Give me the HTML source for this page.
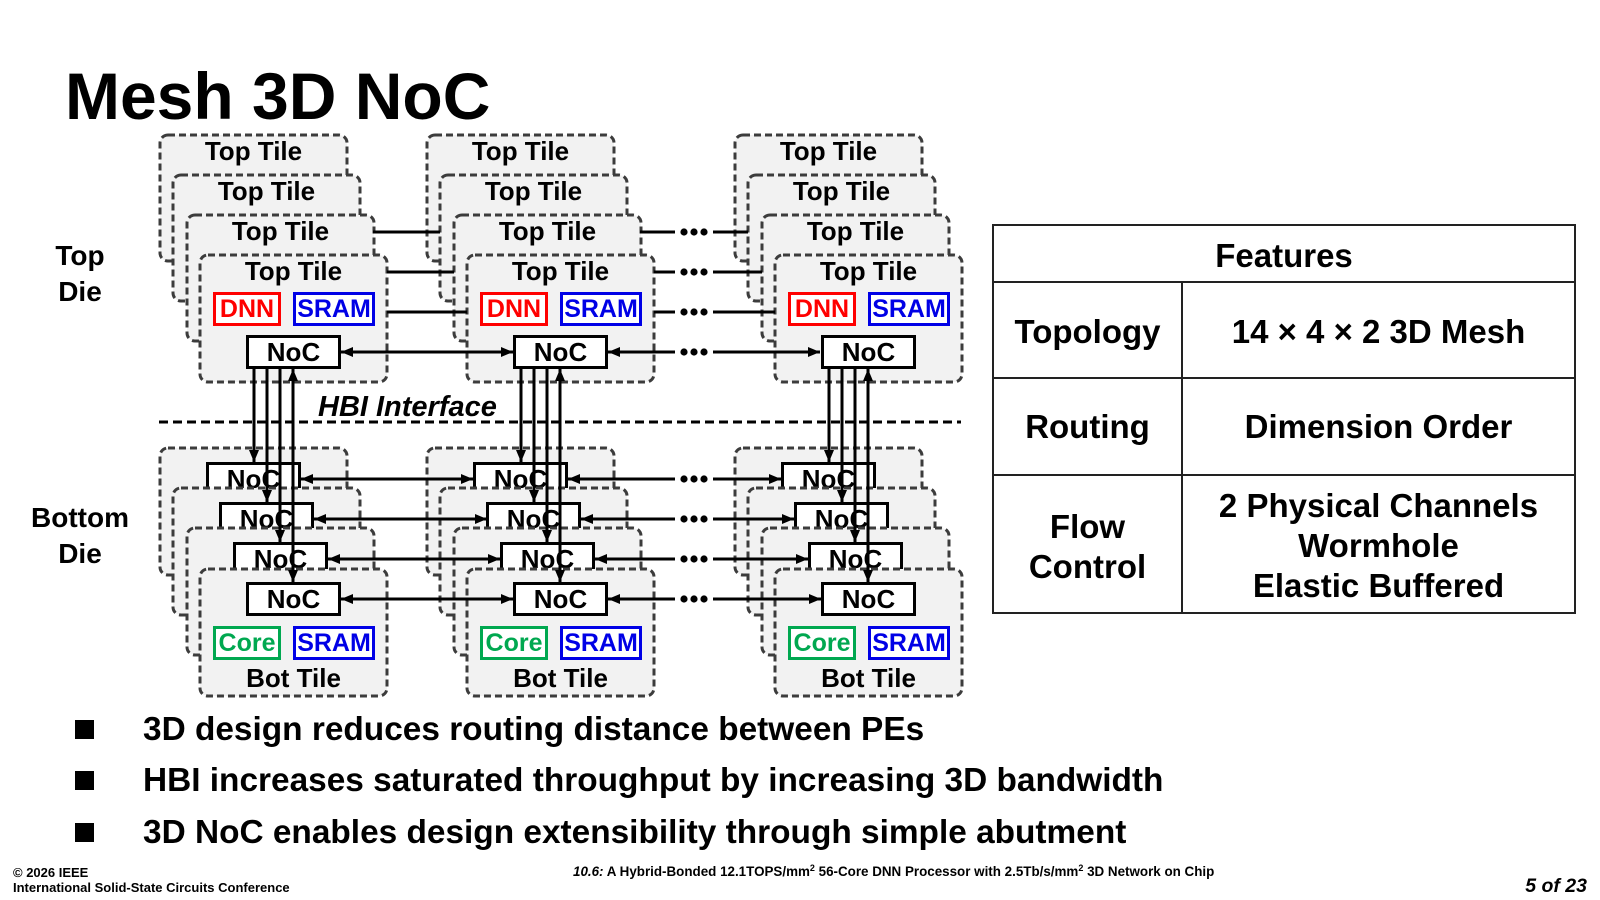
<!DOCTYPE html>
<html><head><meta charset="utf-8"><style>
html,body{margin:0;padding:0;background:#fff;width:1600px;height:900px;overflow:hidden}
svg{display:block}
</style></head><body>
<svg width="1600" height="900" viewBox="0 0 1600 900" xmlns="http://www.w3.org/2000/svg" font-family="'Liberation Sans', Arial, sans-serif" font-weight="bold">
<defs>
<marker id="ah" viewBox="0 0 12 10" markerWidth="12" markerHeight="10" refX="12" refY="5" orient="auto-start-reverse" markerUnits="userSpaceOnUse"><path d="M0,0 L12,5 L0,10 z" fill="#000"/></marker>
</defs>
<style>
.t{fill:#f2f2f2;stroke:#3c3c3c;stroke-width:3;stroke-dasharray:7 4}
.b{fill:#fff;stroke:#000;stroke-width:3}
.l{stroke:#000;stroke-width:3;fill:none}
.m{text-anchor:middle;font-size:26px}
.s{font-size:25px;text-anchor:middle}
</style>

<!-- Title -->
<text x="65" y="119" font-size="66">Mesh 3D NoC</text>

<!-- Die labels -->
<text x="80" y="265" font-size="28" text-anchor="middle">Top</text>
<text x="80" y="301" font-size="28" text-anchor="middle">Die</text>
<text x="80" y="527" font-size="28" text-anchor="middle">Bottom</text>
<text x="80" y="563" font-size="28" text-anchor="middle">Die</text>

<!-- Column 1 -->
<g>
<rect class="t" x="160" y="135" width="187" height="126" rx="8"/>
<text class="m" x="253.5" y="160">Top Tile</text>
<rect class="t" x="173" y="175" width="187" height="126" rx="8"/>
<text class="m" x="266.5" y="200">Top Tile</text>
<rect class="t" x="187" y="215" width="187" height="126" rx="8"/>
<text class="m" x="280.5" y="240">Top Tile</text>
<rect class="t" x="200" y="255" width="187" height="127" rx="8"/>
<text class="m" x="293.5" y="280">Top Tile</text>
<rect x="214.5" y="293.5" width="65" height="31" fill="#fff" stroke="#f00" stroke-width="3"/>
<text class="s" x="247" y="317" fill="#f00">DNN</text>
<rect x="294.5" y="293.5" width="79" height="31" fill="#fff" stroke="#0000e6" stroke-width="3"/>
<text class="s" x="334" y="317" fill="#0000e6">SRAM</text>
<rect class="b" x="247.5" y="336.5" width="92" height="31"/>
<text class="m" x="293.5" y="361">NoC</text>

<rect class="t" x="160" y="448" width="187" height="127" rx="8"/>
<rect class="b" x="207.5" y="463.5" width="92" height="31"/>
<text class="m" x="253.5" y="488">NoC</text>
<rect class="t" x="173" y="488" width="187" height="127" rx="8"/>
<rect class="b" x="220.5" y="503.5" width="92" height="31"/>
<text class="m" x="266.5" y="528">NoC</text>
<rect class="t" x="187" y="528" width="187" height="127" rx="8"/>
<rect class="b" x="234.5" y="543.5" width="92" height="31"/>
<text class="m" x="280.5" y="568">NoC</text>
<rect class="t" x="200" y="569" width="187" height="127" rx="8"/>
<rect class="b" x="247.5" y="583.5" width="92" height="31"/>
<text class="m" x="293.5" y="608">NoC</text>
<rect x="214.5" y="627.5" width="65" height="31" fill="#fff" stroke="#00a850" stroke-width="3"/>
<text class="s" x="247" y="651" fill="#00a850">Core</text>
<rect x="294.5" y="627.5" width="79" height="31" fill="#fff" stroke="#0000e6" stroke-width="3"/>
<text class="s" x="334" y="651" fill="#0000e6">SRAM</text>
<text class="m" x="293.5" y="687">Bot Tile</text>

<line class="l" x1="254" y1="369" x2="254" y2="462" marker-end="url(#ah)"/>
<line class="l" x1="267" y1="369" x2="267" y2="502" marker-end="url(#ah)"/>
<line class="l" x1="280" y1="369" x2="280" y2="542" marker-end="url(#ah)"/>
<line class="l" x1="293" y1="369" x2="293" y2="582" marker-start="url(#ah)" marker-end="url(#ah)"/>
</g>

<!-- Column 2 -->
<g transform="translate(267,0)">
<rect class="t" x="160" y="135" width="187" height="126" rx="8"/>
<text class="m" x="253.5" y="160">Top Tile</text>
<rect class="t" x="173" y="175" width="187" height="126" rx="8"/>
<text class="m" x="266.5" y="200">Top Tile</text>
<rect class="t" x="187" y="215" width="187" height="126" rx="8"/>
<text class="m" x="280.5" y="240">Top Tile</text>
<rect class="t" x="200" y="255" width="187" height="127" rx="8"/>
<text class="m" x="293.5" y="280">Top Tile</text>
<rect x="214.5" y="293.5" width="65" height="31" fill="#fff" stroke="#f00" stroke-width="3"/>
<text class="s" x="247" y="317" fill="#f00">DNN</text>
<rect x="294.5" y="293.5" width="79" height="31" fill="#fff" stroke="#0000e6" stroke-width="3"/>
<text class="s" x="334" y="317" fill="#0000e6">SRAM</text>
<rect class="b" x="247.5" y="336.5" width="92" height="31"/>
<text class="m" x="293.5" y="361">NoC</text>

<rect class="t" x="160" y="448" width="187" height="127" rx="8"/>
<rect class="b" x="207.5" y="463.5" width="92" height="31"/>
<text class="m" x="253.5" y="488">NoC</text>
<rect class="t" x="173" y="488" width="187" height="127" rx="8"/>
<rect class="b" x="220.5" y="503.5" width="92" height="31"/>
<text class="m" x="266.5" y="528">NoC</text>
<rect class="t" x="187" y="528" width="187" height="127" rx="8"/>
<rect class="b" x="234.5" y="543.5" width="92" height="31"/>
<text class="m" x="280.5" y="568">NoC</text>
<rect class="t" x="200" y="569" width="187" height="127" rx="8"/>
<rect class="b" x="247.5" y="583.5" width="92" height="31"/>
<text class="m" x="293.5" y="608">NoC</text>
<rect x="214.5" y="627.5" width="65" height="31" fill="#fff" stroke="#00a850" stroke-width="3"/>
<text class="s" x="247" y="651" fill="#00a850">Core</text>
<rect x="294.5" y="627.5" width="79" height="31" fill="#fff" stroke="#0000e6" stroke-width="3"/>
<text class="s" x="334" y="651" fill="#0000e6">SRAM</text>
<text class="m" x="293.5" y="687">Bot Tile</text>

<line class="l" x1="254" y1="369" x2="254" y2="462" marker-end="url(#ah)"/>
<line class="l" x1="267" y1="369" x2="267" y2="502" marker-end="url(#ah)"/>
<line class="l" x1="280" y1="369" x2="280" y2="542" marker-end="url(#ah)"/>
<line class="l" x1="293" y1="369" x2="293" y2="582" marker-start="url(#ah)" marker-end="url(#ah)"/>
</g>

<!-- Column 3 -->
<g transform="translate(575,0)">
<rect class="t" x="160" y="135" width="187" height="126" rx="8"/>
<text class="m" x="253.5" y="160">Top Tile</text>
<rect class="t" x="173" y="175" width="187" height="126" rx="8"/>
<text class="m" x="266.5" y="200">Top Tile</text>
<rect class="t" x="187" y="215" width="187" height="126" rx="8"/>
<text class="m" x="280.5" y="240">Top Tile</text>
<rect class="t" x="200" y="255" width="187" height="127" rx="8"/>
<text class="m" x="293.5" y="280">Top Tile</text>
<rect x="214.5" y="293.5" width="65" height="31" fill="#fff" stroke="#f00" stroke-width="3"/>
<text class="s" x="247" y="317" fill="#f00">DNN</text>
<rect x="294.5" y="293.5" width="79" height="31" fill="#fff" stroke="#0000e6" stroke-width="3"/>
<text class="s" x="334" y="317" fill="#0000e6">SRAM</text>
<rect class="b" x="247.5" y="336.5" width="92" height="31"/>
<text class="m" x="293.5" y="361">NoC</text>

<rect class="t" x="160" y="448" width="187" height="127" rx="8"/>
<rect class="b" x="207.5" y="463.5" width="92" height="31"/>
<text class="m" x="253.5" y="488">NoC</text>
<rect class="t" x="173" y="488" width="187" height="127" rx="8"/>
<rect class="b" x="220.5" y="503.5" width="92" height="31"/>
<text class="m" x="266.5" y="528">NoC</text>
<rect class="t" x="187" y="528" width="187" height="127" rx="8"/>
<rect class="b" x="234.5" y="543.5" width="92" height="31"/>
<text class="m" x="280.5" y="568">NoC</text>
<rect class="t" x="200" y="569" width="187" height="127" rx="8"/>
<rect class="b" x="247.5" y="583.5" width="92" height="31"/>
<text class="m" x="293.5" y="608">NoC</text>
<rect x="214.5" y="627.5" width="65" height="31" fill="#fff" stroke="#00a850" stroke-width="3"/>
<text class="s" x="247" y="651" fill="#00a850">Core</text>
<rect x="294.5" y="627.5" width="79" height="31" fill="#fff" stroke="#0000e6" stroke-width="3"/>
<text class="s" x="334" y="651" fill="#0000e6">SRAM</text>
<text class="m" x="293.5" y="687">Bot Tile</text>

<line class="l" x1="254" y1="369" x2="254" y2="462" marker-end="url(#ah)"/>
<line class="l" x1="267" y1="369" x2="267" y2="502" marker-end="url(#ah)"/>
<line class="l" x1="280" y1="369" x2="280" y2="542" marker-end="url(#ah)"/>
<line class="l" x1="293" y1="369" x2="293" y2="582" marker-start="url(#ah)" marker-end="url(#ah)"/>
</g>

<!-- Top die horizontal links -->
<line class="l" x1="373" y1="232" x2="440" y2="232"/>
<line class="l" x1="640" y1="232" x2="675" y2="232"/>
<line class="l" x1="713" y1="232" x2="748" y2="232"/>
<line class="l" x1="387" y1="272" x2="454" y2="272"/>
<line class="l" x1="654" y1="272" x2="675" y2="272"/>
<line class="l" x1="713" y1="272" x2="762" y2="272"/>
<line class="l" x1="387" y1="312" x2="467" y2="312"/>
<line class="l" x1="654" y1="312" x2="675" y2="312"/>
<line class="l" x1="713" y1="312" x2="775" y2="312"/>
<line class="l" x1="341" y1="352" x2="513" y2="352" marker-start="url(#ah)" marker-end="url(#ah)"/>
<line class="l" x1="608" y1="352" x2="675" y2="352" marker-start="url(#ah)"/>
<line class="l" x1="713" y1="352" x2="820" y2="352" marker-end="url(#ah)"/>

<!-- Bottom die horizontal links -->
<line class="l" x1="301" y1="479" x2="473" y2="479" marker-start="url(#ah)" marker-end="url(#ah)"/>
<line class="l" x1="568" y1="479" x2="675" y2="479" marker-start="url(#ah)"/>
<line class="l" x1="713" y1="479" x2="781" y2="479" marker-end="url(#ah)"/>
<line class="l" x1="314" y1="519" x2="487" y2="519" marker-start="url(#ah)" marker-end="url(#ah)"/>
<line class="l" x1="581" y1="519" x2="675" y2="519" marker-start="url(#ah)"/>
<line class="l" x1="713" y1="519" x2="794" y2="519" marker-end="url(#ah)"/>
<line class="l" x1="328" y1="559" x2="500" y2="559" marker-start="url(#ah)" marker-end="url(#ah)"/>
<line class="l" x1="595" y1="559" x2="675" y2="559" marker-start="url(#ah)"/>
<line class="l" x1="713" y1="559" x2="808" y2="559" marker-end="url(#ah)"/>
<line class="l" x1="341" y1="599" x2="513" y2="599" marker-start="url(#ah)" marker-end="url(#ah)"/>
<line class="l" x1="608" y1="599" x2="675" y2="599" marker-start="url(#ah)"/>
<line class="l" x1="713" y1="599" x2="821" y2="599" marker-end="url(#ah)"/>

<!-- Dots -->
<g fill="#000">
<circle cx="684" cy="232" r="3.6"/><circle cx="694" cy="232" r="3.6"/><circle cx="704" cy="232" r="3.6"/>
<circle cx="684" cy="272" r="3.6"/><circle cx="694" cy="272" r="3.6"/><circle cx="704" cy="272" r="3.6"/>
<circle cx="684" cy="312" r="3.6"/><circle cx="694" cy="312" r="3.6"/><circle cx="704" cy="312" r="3.6"/>
<circle cx="684" cy="352" r="3.6"/><circle cx="694" cy="352" r="3.6"/><circle cx="704" cy="352" r="3.6"/>
<circle cx="684" cy="479" r="3.6"/><circle cx="694" cy="479" r="3.6"/><circle cx="704" cy="479" r="3.6"/>
<circle cx="684" cy="519" r="3.6"/><circle cx="694" cy="519" r="3.6"/><circle cx="704" cy="519" r="3.6"/>
<circle cx="684" cy="559" r="3.6"/><circle cx="694" cy="559" r="3.6"/><circle cx="704" cy="559" r="3.6"/>
<circle cx="684" cy="599" r="3.6"/><circle cx="694" cy="599" r="3.6"/><circle cx="704" cy="599" r="3.6"/>
</g>

<!-- HBI interface -->
<line x1="159" y1="422" x2="961" y2="422" stroke="#000" stroke-width="3" stroke-dasharray="9 5"/>
<text x="318" y="416" font-size="29" font-style="italic">HBI Interface</text>

<!-- Features table -->
<g stroke="#222" stroke-width="2" fill="none">
<rect x="993" y="225" width="582" height="388"/>
<line x1="993" y1="282" x2="1575" y2="282"/>
<line x1="993" y1="378" x2="1575" y2="378"/>
<line x1="993" y1="475" x2="1575" y2="475"/>
<line x1="1182" y1="282" x2="1182" y2="613"/>
</g>
<g font-size="33" text-anchor="middle">
<text x="1284" y="267">Features</text>
<text x="1087.5" y="343">Topology</text>
<text x="1378.5" y="343">14 × 4 × 2 3D Mesh</text>
<text x="1087.5" y="438">Routing</text>
<text x="1378.5" y="438">Dimension Order</text>
<text x="1087.5" y="538">Flow</text>
<text x="1087.5" y="578">Control</text>
<text x="1378.5" y="517">2 Physical Channels</text>
<text x="1378.5" y="557">Wormhole</text>
<text x="1378.5" y="597">Elastic Buffered</text>
</g>

<!-- Bullets -->
<rect x="75" y="720" width="19" height="19" fill="#000"/>
<rect x="75" y="771" width="19" height="19" fill="#000"/>
<rect x="75" y="823" width="19" height="19" fill="#000"/>
<g font-size="33.4">
<text x="143" y="740">3D design reduces routing distance between PEs</text>
<text x="143" y="791">HBI increases saturated throughput by increasing 3D bandwidth</text>
<text x="143" y="843">3D NoC enables design extensibility through simple abutment</text>
</g>

<!-- Footer -->
<text x="13" y="877" font-size="13">© 2026 IEEE</text>
<text x="13" y="892" font-size="13">International Solid-State Circuits Conference</text>
<text x="573" y="876" font-size="13.4"><tspan font-style="italic">10.6:</tspan> A Hybrid-Bonded 12.1TOPS/mm<tspan font-size="9" dy="-5">2</tspan><tspan dy="5"> 56-Core DNN Processor with 2.5Tb/s/mm</tspan><tspan font-size="9" dy="-5">2</tspan><tspan dy="5"> 3D Network on Chip</tspan></text>
<text x="1587" y="892" font-size="19.5" font-style="italic" text-anchor="end">5 of 23</text>
</svg>
</body></html>
